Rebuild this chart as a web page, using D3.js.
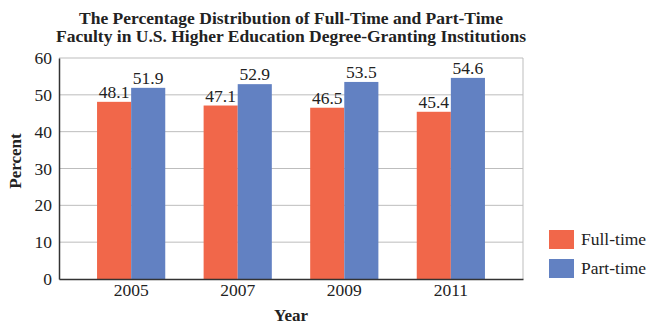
<!DOCTYPE html>
<html><head><meta charset="utf-8">
<script src="https://cdn.jsdelivr.net/npm/d3@7"></script>
<style>body{margin:0;background:#fff}svg{display:block}text{font-family:"Liberation Serif","Times New Roman",serif;fill:#222}</style>
</head><body><svg id="c" width="647" height="325"></svg>
<script>
const years = ["2005","2007","2009","2011"];
const fullTime = [48.1, 47.1, 46.5, 45.4];
const partTime = [51.9, 52.9, 53.5, 54.6];
const seriesNames = ["Full-time","Part-time"];
const yTicks = [0,10,20,30,40,50,60];
const colors = ["#f1674a","#6281c2"];

const svg = d3.select("#c");
const L=59, R=523, T=58, B=279;
const FS=17.5;
const x = d3.scaleBand().domain(years).range([L,R]).paddingInner(0.36).paddingOuter(0.357);
const xs = d3.scaleBand().domain(seriesNames).range([0,x.bandwidth()]);
const y = d3.scaleLinear().domain([0,60]).range([B,T]);

// grid
svg.append("g").selectAll("line").data(yTicks.filter(d=>d>0)).join("line")
  .attr("x1",L).attr("x2",R).attr("y1",d=>y(d)).attr("y2",d=>y(d))
  .attr("stroke","#bdbdbd").attr("stroke-width",1);
svg.append("line").attr("x1",R).attr("x2",R).attr("y1",T).attr("y2",B).attr("stroke","#bdbdbd");

const data = years.map((yr,i)=>({yr, vals:[fullTime[i], partTime[i]]}));
const g = svg.append("g").selectAll("g").data(data).join("g").attr("transform",d=>`translate(${x(d.yr)},0)`);
g.selectAll("rect").data(d=>d.vals.map((v,j)=>({v,s:seriesNames[j],j}))).join("rect")
  .attr("x",d=>xs(d.s)).attr("width",xs.bandwidth()).attr("y",d=>y(d.v)).attr("height",d=>B-y(d.v))
  .attr("fill",d=>colors[d.j]);
g.selectAll("text").data(d=>d.vals.map((v,j)=>({v,s:seriesNames[j],j}))).join("text")
  .attr("x",d=>xs(d.s)+xs.bandwidth()/2).attr("y",d=>y(d.v)-4).attr("text-anchor","middle")
  .attr("font-size",FS).text(d=>d.v.toFixed(1));

// axes
const ya = svg.append("g").attr("transform",`translate(${L},0)`).call(d3.axisLeft(y).tickValues(yTicks).tickSize(0).tickPadding(7));
ya.select(".domain").attr("stroke","#333").attr("stroke-width",1.5);
ya.selectAll("text").attr("font-size",FS).attr("fill","#222");
const xa = svg.append("g").attr("transform",`translate(0,${B})`).call(d3.axisBottom(x).tickSize(0).tickPadding(5));
xa.select(".domain").attr("stroke","#333").attr("stroke-width",1.5);
xa.selectAll("text").attr("font-size",FS).attr("fill","#222");

// titles
const cx=(L+R)/2;
svg.append("text").attr("x",cx).attr("y",24).attr("text-anchor","middle").attr("font-weight","bold").attr("font-size",17.5)
  .text("The Percentage Distribution of Full-Time and Part-Time");
svg.append("text").attr("x",cx).attr("y",42).attr("text-anchor","middle").attr("font-weight","bold").attr("font-size",17.5)
  .text("Faculty in U.S. Higher Education Degree-Granting Institutions");
svg.append("text").attr("x",cx).attr("y",321).attr("text-anchor","middle").attr("font-weight","bold").attr("font-size",17).text("Year");
svg.append("text").attr("transform",`translate(21,161) rotate(-90)`).attr("text-anchor","middle").attr("font-weight","bold").attr("font-size",17).text("Percent");

// legend
const lg = svg.append("g").selectAll("g").data(seriesNames).join("g").attr("transform",(d,i)=>`translate(549,${230+i*29})`);
lg.append("rect").attr("width",25).attr("height",19).attr("fill",(d,i)=>colors[i]);
lg.append("text").attr("x",32).attr("y",15).attr("font-size",FS).text(d=>d);
</script></body></html>
